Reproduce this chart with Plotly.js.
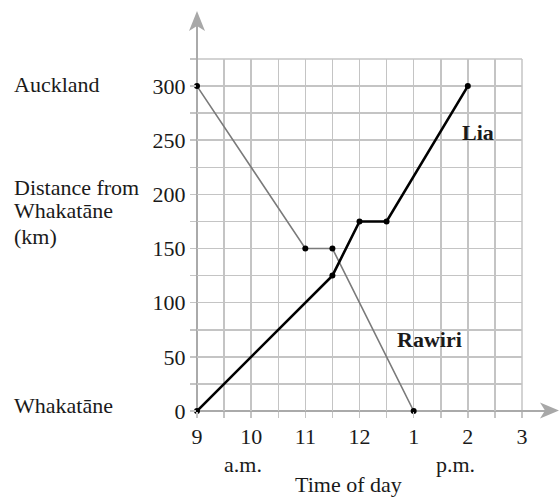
<!DOCTYPE html>
<html><head><meta charset="utf-8">
<script src="https://cdn.plot.ly/plotly-3.0.1.min.js"></script>
<style>body{margin:0;background:#fff}</style>
</head><body><div id="c" style="width:559px;height:499px"></div>
<script>
const rawiriTime = [9, 11, 11.5, 13];
const rawiriDist = [300, 150, 150, 0];
const liaTime = [9, 11.5, 12, 12.5, 14];
const liaDist = [0, 125, 175, 175, 300];
const xTickVals = [9,9.5,10,10.5,11,11.5,12,12.5,13,13.5,14,14.5,15];
const xTickText = ['9','','10','','11','','12','','1','','2','','3'];
const yTickVals = [0,25,50,75,100,125,150,175,200,225,250,275,300,325];
const yTickText = ['0','','50','','100','','150','','200','','250','','300',''];

const W=559,H=499,L=197,R=37,T=59,B=88;
const pw=W-L-R, ph=H-T-B;
const px=x=>(x-L)/pw, py=y=>(H-B-y)/ph;
const F='"Liberation Serif", "Times New Roman", serif';
const FS=22;
const axisCol='#aaaaaa', gridCol='#c4c4c4';

const traces=[
 {x:rawiriTime,y:rawiriDist,mode:'lines+markers',line:{color:'#7a7a7a',width:1.6},marker:{color:'#000',size:6},cliponaxis:false,hoverinfo:'skip'},
 {x:liaTime,y:liaDist,mode:'lines+markers',line:{color:'#000',width:2.6},marker:{color:'#000',size:6},cliponaxis:false,hoverinfo:'skip'}
];
function ann(text,x,y,xa,opts){return Object.assign({text:text,xref:'paper',yref:'paper',x:px(x),y:py(y),xanchor:xa||'center',yanchor:'middle',showarrow:false,font:{family:F,size:FS,color:'#1a1a1a'}},opts||{});}
const layout={
 width:W,height:H,margin:{l:L,r:R,t:T,b:B},showlegend:false,
 paper_bgcolor:'#fff',plot_bgcolor:'#fff',
 xaxis:{range:[9,15],tickvals:xTickVals,ticktext:xTickText,showgrid:true,gridcolor:gridCol,gridwidth:1.5,
   ticks:'outside',ticklen:6,tickcolor:gridCol,tickwidth:1.5,zeroline:false,showline:false,
   tickfont:{family:F,size:FS,color:'#1a1a1a'},fixedrange:true},
 yaxis:{range:[0,325],tickvals:yTickVals,ticktext:yTickText,showgrid:true,gridcolor:gridCol,gridwidth:1.5,
   ticks:'outside',ticklen:6,tickcolor:gridCol,tickwidth:1.5,zeroline:false,showline:false,
   tickfont:{family:F,size:FS,color:'#1a1a1a'},fixedrange:true},
 shapes:[
  {type:'line',xref:'paper',yref:'paper',x0:0,x1:1,y0:1,y1:1,line:{color:gridCol,width:1.5},layer:'below'},
  {type:'line',xref:'paper',yref:'paper',x0:1,x1:1,y0:0,y1:1,line:{color:gridCol,width:1.5},layer:'below'},
  {type:'line',xref:'paper',yref:'paper',x0:0,x1:px(550),y0:0,y1:0,line:{color:axisCol,width:2},layer:'below'},
  {type:'line',xref:'paper',yref:'paper',x0:0,x1:0,y0:0,y1:py(22),line:{color:axisCol,width:2},layer:'below'},
  {type:'path',xref:'paper',yref:'paper',path:`M ${px(197)} ${py(11)} L ${px(205)} ${py(31)} L ${px(197)} ${py(26)} L ${px(189)} ${py(31)} Z`,fillcolor:'#a8a8a8',line:{width:0}},
  {type:'path',xref:'paper',yref:'paper',path:`M ${px(559)} ${py(410.5)} L ${px(540)} ${py(402.5)} L ${px(545)} ${py(410.5)} L ${px(540)} ${py(418.5)} Z`,fillcolor:'#a8a8a8',line:{width:0}}
 ],
 annotations:[
  ann('Auckland',12,84,'left'),
  ann('Distance from',12,187,'left'),
  ann('Whakatāne',12,211,'left'),
  ann('(km)',12,236,'left'),
  ann('Whakatāne',12,405,'left'),
  ann('<b>Lia</b>',478,132),
  ann('<b>Rawiri</b>',429,339),
  ann('a.m.',243,464),
  ann('p.m.',455,464),
  ann('Time of day',348,484)
 ]
};
Plotly.newPlot('c',traces,layout,{staticPlot:true});
</script></body></html>
